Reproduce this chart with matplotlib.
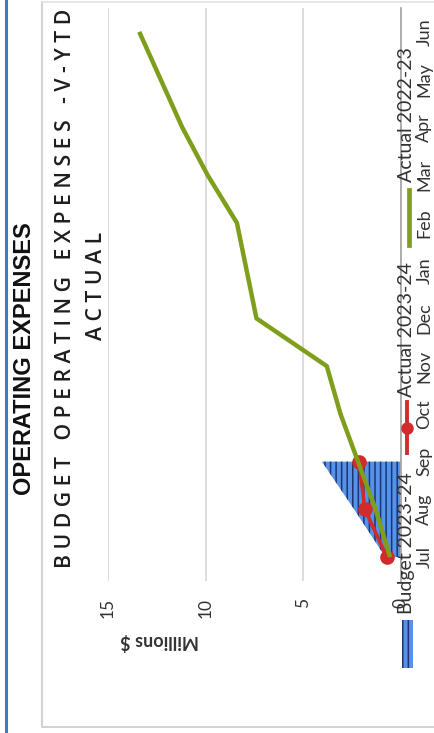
import numpy as np
import matplotlib.pyplot as plt
from matplotlib.lines import Line2D
from matplotlib.patches import Rectangle

# 月份与各系列数值（百万元，累计）
months = ['Jul', 'Aug', 'Sep', 'Oct', 'Nov', 'Dec', 'Jan', 'Feb', 'Mar', 'Apr', 'May', 'Jun']
budget_2324 = [0.8, 2.4, 4.05]
actual_2324 = [0.72, 1.85, 2.15]
actual_2223 = [0.56, 1.3, 2.2, 3.1, 3.8, 7.4, 7.9, 8.4, 9.9, 11.2, 12.3, 13.4]
value_ticks = [0, 5, 10, 15]
series_names = ['Budget 2023-24', 'Actual 2023-24', 'Actual 2022-23']

W, H = 435, 733
BLUE = '#5593ea'
NAVY = '#1c3570'
RED = '#d22b2b'
GREEN = '#7e9e1c'
LABEL = '#333333'


def px(x, y):
    # 像素坐标 -> figure 坐标
    return x / W, 1 - y / H


plt.rcParams['hatch.linewidth'] = 1.1
fig = plt.figure(figsize=(W / 100, H / 100), dpi=100)
fig.patch.set_facecolor('white')

# 整张图旋转了 90 度：月份沿竖直方向，数值向左增大
ax = fig.add_axes([108 / W, 1 - 581 / H, (401 - 108) / W, (581 - 8) / H])
idx = np.arange(len(months))

ax.fill_betweenx(idx[:len(budget_2324)], 0, budget_2324, facecolor=BLUE,
                 edgecolor=NAVY, hatch='|||', linewidth=0, zorder=2)
ax.plot(actual_2324, idx[:len(actual_2324)], color=RED, lw=2.6, marker='o',
        ms=9.5, zorder=3)
ax.plot(actual_2223, idx, color=GREEN, lw=3.2, solid_capstyle='butt', zorder=4)

ax.set_xlim(15, 0)
ax.set_ylim(-0.5, len(months) - 0.5)
ax.grid(axis='x', color='#dadada', lw=1.3)
ax.set_axisbelow(True)
for s in ['top', 'left', 'bottom']:
    ax.spines[s].set_visible(False)
ax.spines['right'].set_color('#a8a8a8')
ax.spines['right'].set_linewidth(1.3)

ax.set_xticks(value_ticks)
ax.set_xticklabels([str(v) for v in value_ticks], rotation=90, fontsize=12.5,
                   family='Lato', color=LABEL)
ax.tick_params(axis='x', length=0, pad=12)

ax.yaxis.tick_right()
ax.set_yticks(idx)
ax.set_yticklabels(months, rotation=90, va='center', fontsize=13,
                   family='Lato', color=LABEL)
ax.tick_params(axis='y', length=0, pad=11)

# 标题
fig.text(*px(25, 359), 'OPERATING EXPENSES', rotation=90, ha='center', va='center',
         fontsize=17, fontweight='bold', family='Liberation Sans', color='#111111')
fig.text(*px(66, 288), 'B U D G E T   O P E R A T I N G   E X P E N S E S   - V - Y T D',
         rotation=90, ha='center', va='center', fontsize=15.2, fontweight='semibold',
         family='Open Sans', color='#1e1e1e')
fig.text(*px(97, 286), 'A C T U A L', rotation=90, ha='center', va='center',
         fontsize=15.2, fontweight='semibold', family='Open Sans', color='#1e1e1e')
fig.text(*px(160, 641), 'Millions $', rotation=180, ha='center', va='center',
         fontsize=13, fontweight='bold', family='Lato', color=LABEL)

# 图例（手工绘制，随图一起旋转）
x0, y0 = px(402, 668)
x1, y1 = px(413, 620)
fig.patches.append(Rectangle((x0, y0), x1 - x0, y1 - y0, transform=fig.transFigure,
                             facecolor=BLUE, edgecolor=NAVY, hatch='|||', linewidth=0))
fig.text(*px(407, 543), series_names[0], rotation=90, ha='center', va='center',
         fontsize=14, family='Lato', color=LABEL)
fig.lines.append(Line2D([407 / W] * 2, [1 - 453 / H, 1 - 402 / H], transform=fig.transFigure,
                        color=RED, lw=2.8))
fig.lines.append(Line2D([407 / W], [1 - 428 / H], transform=fig.transFigure,
                        color=RED, marker='o', ms=8))
fig.text(*px(407, 330), series_names[1], rotation=90, ha='center', va='center',
         fontsize=14, family='Lato', color=LABEL)
fig.lines.append(Line2D([409 / W] * 2, [1 - 245 / H, 1 - 190 / H], transform=fig.transFigure,
                        color=GREEN, lw=3.4))
fig.text(*px(407, 115), series_names[2], rotation=90, ha='center', va='center',
         fontsize=14, family='Lato', color=LABEL)

# 外框
fig.lines.append(Line2D([6 / W] * 2, [0, 1], transform=fig.transFigure,
                        color='#2f7fd6', lw=2.2))
fig.lines.append(Line2D([42 / W, 42 / W, 1], [1 - 2 / H, 1 - 727 / H, 1 - 727 / H],
                        transform=fig.transFigure, color='#d2d2d2', lw=1.5))
fig.lines.append(Line2D([42 / W, 1], [1 - 2 / H, 1 - 2 / H],
                        transform=fig.transFigure, color='#e2e2e2', lw=1.2))

fig.savefig('out.png', dpi=100)
